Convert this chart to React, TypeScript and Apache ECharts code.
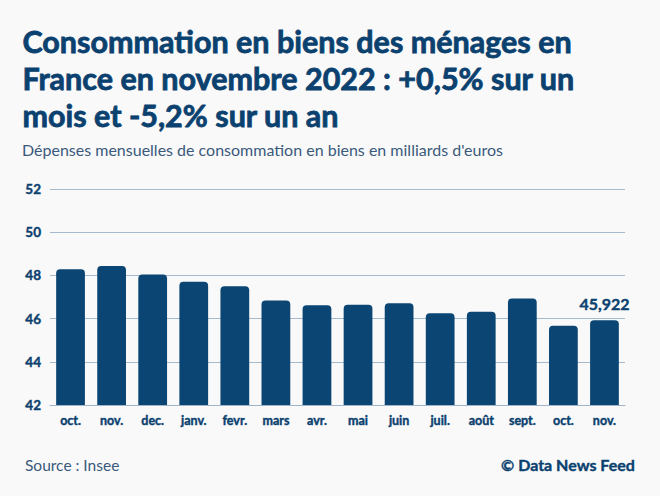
import React, { useEffect, useRef } from "react";
import * as echarts from "echarts";

const categories = ["oct.", "nov.", "dec.", "janv.", "fevr.", "mars", "avr.", "mai", "juin", "juil.", "août", "sept.", "oct.", "nov."];
const values = [48.28, 48.43, 48.04, 47.71, 47.5, 46.84, 46.62, 46.64, 46.71, 46.25, 46.32, 46.93, 45.67, 45.922];
const titleLines = [
  "Consommation en biens des ménages en",
  "France en novembre 2022 : +0,5% sur un",
  "mois et -5,2% sur un an",
];
const subtitle = "Dépenses mensuelles de consommation en biens en milliards d'euros";
const source = "Source : Insee";
const credit = "© Data News Feed";

const DARK = "#0b416f";
const FONT = "Lato, 'Noto Sans', sans-serif";

export default function App() {
  const ref = useRef<HTMLDivElement>(null);
  useEffect(() => {
    if (!ref.current) return;
    const chart = echarts.init(ref.current, null, { renderer: "svg" });
    const last = values.length - 1;
    const bold = { textBorderColor: DARK, textBorderWidth: 0.4 };
    chart.setOption({
      animation: false,
      backgroundColor: "#f9f9f9",
      textStyle: { fontFamily: FONT },
      graphic: [
        ...titleLines.map((t, i) => ({
          type: "text",
          left: 22,
          top: 25 + i * 37,
          style: { text: t, fill: DARK, stroke: DARK, lineWidth: 0.8, font: `bold 30.5px ${FONT}` },
        })),
        {
          type: "text",
          left: 22,
          top: 141,
          style: { text: subtitle, fill: "#3a5a7c", font: `16px ${FONT}` },
        },
        {
          type: "text",
          left: 25,
          top: 457,
          style: { text: source, fill: "#3a5a7c", font: `15.5px ${FONT}` },
        },
        {
          type: "text",
          right: 25,
          top: 456,
          style: { text: credit, fill: DARK, stroke: DARK, lineWidth: 0.4, font: `bold 16px ${FONT}` },
        },
      ],
      grid: { left: 50, right: 35, top: 189, bottom: 91 },
      xAxis: {
        type: "category",
        data: categories,
        axisLine: { show: true, lineStyle: { color: "#9fb4c8" } },
        axisTick: { show: false },
        axisLabel: { color: DARK, fontWeight: "bold", fontSize: 12.5, margin: 9, fontFamily: FONT, ...bold },
      },
      yAxis: {
        type: "value",
        min: 42,
        max: 52,
        interval: 2,
        axisLine: { show: false },
        axisTick: { show: false },
        axisLabel: { color: DARK, fontWeight: "bold", fontSize: 13.5, margin: 9, fontFamily: FONT, align: "right", ...bold },
        splitLine: { lineStyle: { color: "#a6bacd", width: 1 } },
      },
      series: [
        {
          type: "bar",
          data: values.map((v, i) =>
            i === last
              ? {
                  value: v,
                  label: {
                    show: true,
                    position: "top",
                    distance: 9,
                    formatter: () => v.toFixed(3).replace(".", ","),
                    color: DARK,
                    fontWeight: "bold",
                    fontSize: 16,
                    fontFamily: FONT,
                    ...bold,
                  },
                }
              : v
          ),
          barWidth: "70%",
          itemStyle: { color: "#0a4573", borderRadius: [4, 4, 0, 0] },
        },
      ],
    });
    return () => chart.dispose();
  }, []);
  return <div ref={ref} style={{ width: 660, height: 496, position: "absolute", left: 0, top: 0 }} />;
}
